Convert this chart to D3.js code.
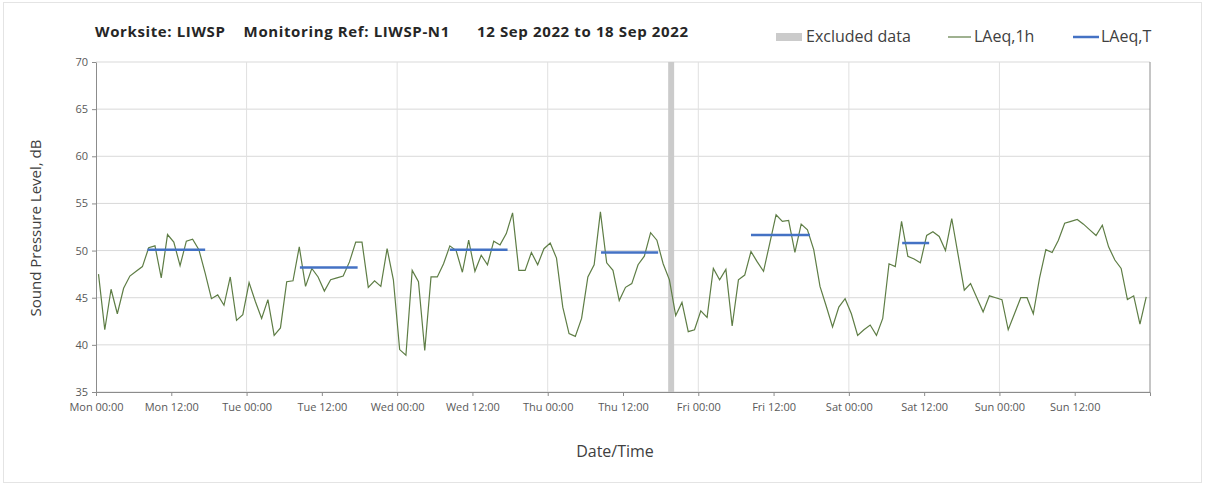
<!DOCTYPE html>
<html>
<head>
<meta charset="utf-8">
<script src="https://cdn.jsdelivr.net/npm/d3@7"></script>
<style>
  body { margin: 0; background: #fff; }
  svg { display: block; font-family: "Open Sans", sans-serif; }
</style>
</head>
<body>
<svg id="svg" width="1208" height="487"></svg>
<script>
// hourly LAeq,1h from Mon 00:00, 12 Sep 2022 (168 hours)
var laeq1h = [
  47.5,41.6,45.9,43.3,46.0,47.3,47.8,48.3,50.3,50.5,47.1,51.7,50.9,48.4,51.0,51.2,50.1,47.6,44.9,45.3,44.2,47.2,42.6,43.2,
  46.6,44.6,42.8,44.8,41.0,41.8,46.7,46.8,50.4,46.2,48.1,47.2,45.7,46.9,47.1,47.3,48.8,50.9,50.9,46.1,46.8,46.2,50.2,46.9,
  39.5,38.9,47.9,46.7,39.4,47.2,47.2,48.6,50.5,50.0,47.7,51.1,47.8,49.5,48.5,51.0,50.6,51.8,54.0,47.9,47.9,49.8,48.5,50.2,
  50.8,49.2,44.0,41.2,40.9,42.8,47.2,48.5,54.1,48.7,47.9,44.7,46.1,46.5,48.5,49.4,51.9,51.1,48.6,46.9,43.1,44.5,41.4,41.6,
  43.6,42.9,48.1,46.9,48.0,42.0,46.9,47.4,49.9,48.8,47.8,50.8,53.8,53.1,53.2,49.8,52.8,52.2,50.1,46.2,44.1,41.9,44.0,44.9,
  43.3,41.0,41.6,42.1,41.0,42.8,48.6,48.3,53.1,49.4,49.1,48.7,51.6,52.0,51.5,50.0,53.4,49.6,45.8,46.5,45.0,43.5,45.2,45.0,
  44.8,41.6,43.3,45.0,45.0,43.3,47.1,50.1,49.8,51.1,52.9,53.1,53.3,52.8,52.2,51.6,52.7,50.4,49.0,48.1,44.8,45.2,42.2,45.1
];
var hourOffset = 0.4;

// LAeq,T periods: start hour, end hour, level
var laeqTStart = [8.2, 32.5, 56.4, 80.5, 104.4, 128.5];
var laeqTEnd   = [17.4, 41.7, 65.6, 89.6, 113.8, 132.8];
var laeqTLevel = [50.1, 48.2, 50.1, 49.8, 51.65, 50.8];

// excluded data period (hours)
var excluded = [[91.2, 92.15]];

var days = ["Mon","Tue","Wed","Thu","Fri","Sat","Sun"];
var xTicks = d3.range(0, 168, 12);
var yTicks = d3.range(35, 71, 5);

var svg = d3.select("#svg");
var pLeft = 96, pRight = 1150, pTop = 62, pBottom = 392;

var x = d3.scaleLinear().domain([0, 168]).range([pLeft, pRight]);
var y = d3.scaleLinear().domain([35, 70]).range([pBottom, pTop]);

// outer frame
svg.append("rect")
  .attr("x", 3.5).attr("y", 2.5).attr("width", 1198).attr("height", 480)
  .attr("fill", "none").attr("stroke", "#e4e4e4");

// horizontal gridlines
svg.append("g").selectAll("line").data(yTicks).enter().append("line")
  .attr("x1", pLeft).attr("x2", pRight)
  .attr("y1", function(d){ return y(d); }).attr("y2", function(d){ return y(d); })
  .attr("stroke", "#d9d9d9");

// vertical gridlines (daily)
svg.append("g").selectAll("line").data(d3.range(24, 168, 24)).enter().append("line")
  .attr("x1", function(d){ return x(d); }).attr("x2", function(d){ return x(d); })
  .attr("y1", pTop).attr("y2", pBottom)
  .attr("stroke", "#e0e0e0");

// excluded band
svg.append("g").selectAll("rect").data(excluded).enter().append("rect")
  .attr("x", function(d){ return x(d[0]); })
  .attr("width", function(d){ return x(d[1]) - x(d[0]); })
  .attr("y", pTop).attr("height", pBottom - pTop)
  .attr("fill", "#cbcbcb");

// axes
var xAxis = d3.axisBottom(x).tickValues(xTicks).tickSize(4)
  .tickFormat(function(d){ return days[Math.floor(d/24)] + " " + (d % 24 == 0 ? "00:00" : "12:00"); });
var gx = svg.append("g").attr("transform", "translate(0," + pBottom + ")").call(xAxis);
gx.select(".domain").attr("stroke", "#8c8c8c");
gx.selectAll(".tick line").attr("stroke", "#8c8c8c");
gx.selectAll(".tick text").attr("fill", "#595959").attr("font-size", 11)
  .attr("font-family", "Open Sans, sans-serif").attr("dy", "1.1em");

var yAxis = d3.axisLeft(y).tickValues(yTicks).tickSize(4).tickSizeOuter(0);
var gy = svg.append("g").attr("transform", "translate(" + pLeft + ",0)").call(yAxis);
gy.select(".domain").attr("stroke", "#8c8c8c");
gy.selectAll(".tick line").attr("stroke", "#8c8c8c");
gy.selectAll(".tick text").attr("fill", "#595959").attr("font-size", 11)
  .attr("font-family", "Open Sans, sans-serif").attr("x", -8);

// right border
svg.append("line").attr("x1", pRight).attr("x2", pRight).attr("y1", pTop).attr("y2", pBottom)
  .attr("stroke", "#8c8c8c");

// LAeq,1h line
var line = d3.line()
  .x(function(d, i){ return x(i + hourOffset); })
  .y(function(d){ return y(d); });
svg.append("path").datum(laeq1h)
  .attr("d", line).attr("fill", "none")
  .attr("stroke", "#5e7d45").attr("stroke-width", 1.2);

// LAeq,T lines
svg.append("g").selectAll("line").data(laeqTLevel).enter().append("line")
  .attr("x1", function(d, i){ return x(laeqTStart[i]); })
  .attr("x2", function(d, i){ return x(laeqTEnd[i]); })
  .attr("y1", function(d){ return y(d); }).attr("y2", function(d){ return y(d); })
  .attr("stroke", "#4472c4").attr("stroke-width", 2.5);

// title
svg.append("text").attr("x", 95).attr("y", 37)
  .attr("font-size", 15).attr("font-weight", "bold").attr("fill", "#262626")
  .attr("xml:space", "preserve")
  .attr("textLength", 593).attr("lengthAdjust", "spacing")
  .text("Worksite: LIWSP    Monitoring Ref: LIWSP-N1      12 Sep 2022 to 18 Sep 2022");

// legend
var lg = svg.append("g").attr("font-size", 16).attr("fill", "#404040");
lg.append("rect").attr("x", 776).attr("y", 33).attr("width", 26).attr("height", 8).attr("fill", "#cbcbcb");
lg.append("text").attr("x", 806).attr("y", 42).text("Excluded data");
lg.append("line").attr("x1", 948).attr("x2", 971).attr("y1", 37).attr("y2", 37)
  .attr("stroke", "#5e7d45").attr("stroke-width", 1.2);
lg.append("text").attr("x", 974).attr("y", 42).text("LAeq,1h");
lg.append("line").attr("x1", 1073).attr("x2", 1099).attr("y1", 37).attr("y2", 37)
  .attr("stroke", "#4472c4").attr("stroke-width", 2.5);
lg.append("text").attr("x", 1101).attr("y", 42).text("LAeq,T");

// axis titles
svg.append("text").attr("x", 615).attr("y", 457).attr("text-anchor", "middle")
  .attr("font-size", 16).attr("fill", "#404040").text("Date/Time");
svg.append("text").attr("transform", "translate(41,228) rotate(-90)")
  .attr("text-anchor", "middle").attr("font-size", 15).attr("fill", "#404040")
  .text("Sound Pressure Level, dB");
</script>
</body>
</html>
